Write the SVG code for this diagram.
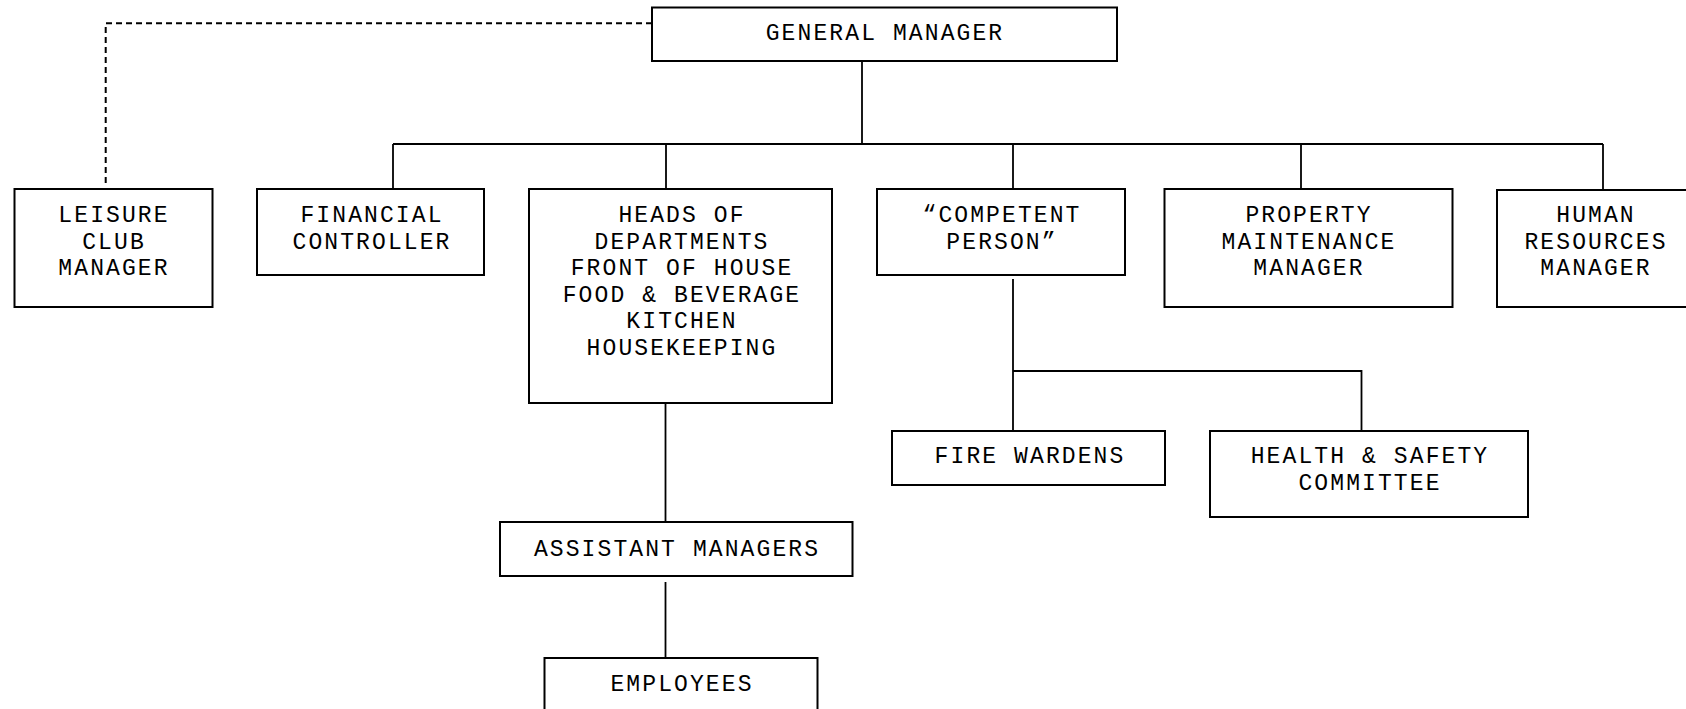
<svg xmlns="http://www.w3.org/2000/svg" width="1686" height="709" viewBox="0 0 1686 709">
<style>
.box{fill:#fff;stroke:#000;stroke-width:2}
.ln{fill:none;stroke:#000;stroke-width:1.8}
.dash{fill:none;stroke:#000;stroke-width:2;stroke-dasharray:6 4}
text{font-family:"Liberation Mono","DejaVu Sans Mono",monospace;font-size:23px;letter-spacing:2.1px;fill:#000;text-anchor:middle}
</style>
<rect width="1686" height="709" fill="#fff"/>
<g id="connectors">
<path class="dash" d="M652,23.3 H105.7 V183"/>
<path class="ln" d="M862,57 V144"/>
<path class="ln" d="M393,144 H1603"/>
<path class="ln" d="M393,144 V189"/>
<path class="ln" d="M666,144 V189"/>
<path class="ln" d="M1013,144 V189"/>
<path class="ln" d="M1301,144 V189"/>
<path class="ln" d="M1603,144 V190"/>
<path class="ln" d="M1013,279 V431"/>
<path class="ln" d="M1013,371 H1361.5 V431"/>
<path class="ln" d="M665.5,400 V522"/>
<path class="ln" d="M665.5,582 V658"/>
</g>
<g id="general-manager">
<rect class="box" x="652" y="7.5" width="465" height="53.5"/>
<text x="885" y="40">GENERAL MANAGER</text>
</g>
<g id="leisure-club-manager">
<rect class="box" x="14.5" y="189" width="198" height="118"/>
<text x="114" y="222">LEISURE</text>
<text x="114" y="248.6">CLUB</text>
<text x="114" y="275.2">MANAGER</text>
</g>
<g id="financial-controller">
<rect class="box" x="257" y="189" width="227" height="86"/>
<text x="372" y="222">FINANCIAL</text>
<text x="372" y="248.6">CONTROLLER</text>
</g>
<g id="heads-of-departments">
<rect class="box" x="529" y="189" width="303" height="214"/>
<text x="682" y="222">HEADS OF</text>
<text x="682" y="248.6">DEPARTMENTS</text>
<text x="682" y="275.2">FRONT OF HOUSE</text>
<text x="682" y="301.8">FOOD &amp; BEVERAGE</text>
<text x="682" y="328.4">KITCHEN</text>
<text x="682" y="355">HOUSEKEEPING</text>
</g>
<g id="competent-person">
<rect class="box" x="877" y="189" width="248" height="86"/>
<text x="1002" y="222">“COMPETENT</text>
<text x="1002" y="248.6">PERSON”</text>
</g>
<g id="property-maintenance-manager">
<rect class="box" x="1164.5" y="189" width="288" height="118"/>
<text x="1309" y="222">PROPERTY</text>
<text x="1309" y="248.6">MAINTENANCE</text>
<text x="1309" y="275.2">MANAGER</text>
</g>
<g id="human-resources-manager">
<rect class="box" x="1497" y="190" width="200" height="117"/>
<text x="1596" y="222">HUMAN</text>
<text x="1596" y="248.6">RESOURCES</text>
<text x="1596" y="275.2">MANAGER</text>
</g>
<g id="fire-wardens">
<rect class="box" x="892" y="431" width="273" height="54"/>
<text x="1030" y="463">FIRE WARDENS</text>
</g>
<g id="health-safety-committee">
<rect class="box" x="1210" y="431" width="318" height="86"/>
<text x="1370" y="463">HEALTH &amp; SAFETY</text>
<text x="1370" y="489.6">COMMITTEE</text>
</g>
<g id="assistant-managers">
<rect class="box" x="500" y="522" width="352.5" height="54"/>
<text x="677" y="556">ASSISTANT MANAGERS</text>
</g>
<g id="employees">
<rect class="box" x="544.5" y="658" width="273" height="70"/>
<text x="682" y="691">EMPLOYEES</text>
</g>
</svg>
